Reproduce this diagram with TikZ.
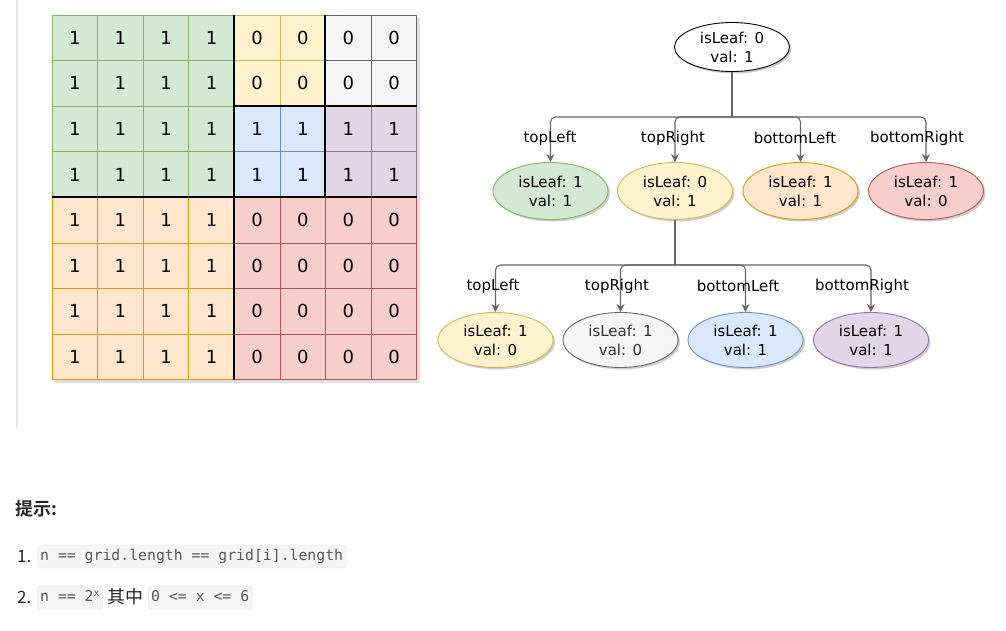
\documentclass[tikz,border=0pt]{standalone}
\usepackage{fontspec}
\setmainfont{DejaVu Sans}
\setmonofont{DejaVu Sans Mono}
\newfontfamily\cjk{Noto Sans CJK SC}
\newfontfamily\cjkb{Noto Sans CJK SC Bold}
\usetikzlibrary{shapes.geometric,arrows.meta,shadows}
\definecolor{gfill}{HTML}{D5E8D4}\definecolor{gline}{HTML}{82B366}
\definecolor{yfill}{HTML}{FFF2CC}\definecolor{yline}{HTML}{D6B656}
\definecolor{sfill}{HTML}{F5F5F5}\definecolor{sline}{HTML}{666666}
\definecolor{bfill}{HTML}{DAE8FC}\definecolor{bline}{HTML}{6C8EBF}
\definecolor{pfill}{HTML}{E1D5E7}\definecolor{pline}{HTML}{9673A6}
\definecolor{ofill}{HTML}{FFE6CC}\definecolor{oline}{HTML}{D79B00}
\definecolor{rfill}{HTML}{F8CECC}\definecolor{rline}{HTML}{B85450}
\definecolor{conncol}{HTML}{666666}
\definecolor{sepcol}{HTML}{E6E6E6}
\definecolor{txt}{HTML}{262626}
\definecolor{codebg}{HTML}{F5F5F5}
\definecolor{codeline}{HTML}{E6E6E6}
\definecolor{codetext}{HTML}{595959}
\tikzset{
  cell/.style={minimum size=45.6pt,inner sep=0pt,line width=0.8pt,font=\fontsize{18}{18}\selectfont},
  thickl/.style={line width=1.6pt,black},
  ell/.style={ellipse,minimum width=115pt,inner sep=0pt,line width=0.9pt,align=center,
    font=\fontsize{15}{19}\selectfont,
    drop shadow={shadow xshift=2pt,shadow yshift=-2pt,opacity=0.2,fill=black}},
  lbl/.style={font=\fontsize{15}{15}\selectfont,inner sep=1pt},
  trunk/.style={draw=conncol,line width=1.1pt},
  conn/.style={draw=conncol,line width=1.1pt,rounded corners=5pt,-{Stealth[length=8pt,width=8pt]}},
  code/.style={fill=codebg,draw=codeline,rounded corners=3pt,inner xsep=3pt,inner ysep=0pt,
    minimum height=23pt,text height=11pt,text depth=3pt,text=codetext,
    font=\ttfamily\fontsize{14.8}{15}\selectfont},
  plain/.style={text=txt,inner sep=0pt,anchor=west}
}
\begin{document}
\begin{tikzpicture}[x=1pt,y=-1pt]
\useasboundingbox (0,0) rectangle (1006,631);
\fill[white] (0,0) rectangle (1006,631);
% left separator
\draw[sepcol,line width=1.5pt] (17,0) -- (17,428);
% grid shadow
\fill[black!20,opacity=0.6] (55,18) rectangle (419.8,382.8);
% grid cells
\foreach \cx/\cy/\nw/\nh/\fc/\sc/\v in {0/0/4/4/gfill/gline/1, 4/0/2/2/yfill/yline/0, 6/0/2/2/sfill/sline/0, 4/2/2/2/bfill/bline/1, 6/2/2/2/pfill/pline/1, 0/4/4/4/ofill/oline/1, 4/4/4/4/rfill/rline/0}{
  \foreach \i in {1,...,\nw}{
    \foreach \j in {1,...,\nh}{
      \pgfmathtruncatemacro\col{\cx+\i-1}
      \pgfmathtruncatemacro\row{\cy+\j-1}
      \pgfmathsetmacro\xx{52+45.6*\col+22.8}
      \pgfmathsetmacro\yy{15+45.6*\row+22.8}
      \node[cell,fill=\fc,draw=\sc] (c\col-\row) at (\xx,\yy) {\v};
    }
  }
}
% thick region borders
\draw[thickl] (c4-0.north west) -- (c4-7.south west);
\draw[thickl] (c0-4.north west) -- (c7-4.north east);
\draw[thickl] (c6-0.north west) -- (c6-3.south west);
\draw[thickl] (c4-2.north west) -- (c7-2.north east);
% tree
\node[ell,fill=white,draw=black,minimum height=49pt] (root) at (732,47) {isLeaf: 0\\val: 1};
\node[ell,fill=gfill,draw=gline,minimum height=57pt] (a1) at (550.5,191) {isLeaf: 1\\val: 1};
\node[ell,fill=yfill,draw=yline,minimum height=57pt] (a2) at (675,191) {isLeaf: 0\\val: 1};
\node[ell,fill=ofill,draw=oline,minimum height=57pt] (a3) at (800.5,191) {isLeaf: 1\\val: 1};
\node[ell,fill=rfill,draw=rline,minimum height=57pt] (a4) at (926,191) {isLeaf: 1\\val: 0};
\node[ell,fill=yfill,draw=yline,minimum height=55pt] (b1) at (495.5,340) {isLeaf: 1\\val: 0};
\node[ell,fill=sfill,draw=sline,minimum height=55pt,text=black!80] (b2) at (620.5,340) {isLeaf: 1\\val: 0};
\node[ell,fill=bfill,draw=bline,minimum height=55pt] (b3) at (745.5,340) {isLeaf: 1\\val: 1};
\node[ell,fill=pfill,draw=pline,minimum height=55pt] (b4) at (871,340) {isLeaf: 1\\val: 1};
\coordinate (j1) at (732,117);
\coordinate (j2) at (675,265);
\draw[trunk] (root.south) -- (j1);
\foreach \n in {a1,a2,a3,a4}{\draw[conn] (j1) -| (\n.north);}
\draw[trunk] (a2.south) -- (j2);
\foreach \n in {b1,b2,b3,b4}{\draw[conn] (j2) -| (\n.north);}
\node[lbl] (la1) at (550,138) {topLeft};
\node[lbl] (la2) at (673,138) {topRight};
\node[lbl] (la3) at (795,138) {bottomLeft};
\node[lbl] (la4) at (917,138) {bottomRight};
\node[lbl] (lb1) at (493,286) {topLeft};
\node[lbl] (lb2) at (617,286) {topRight};
\node[lbl] (lb3) at (738,286) {bottomLeft};
\node[lbl] (lb4) at (862,286) {bottomRight};
% hints
\node[plain,font=\cjkb\fontsize{18}{18}\selectfont] (tip) at (15,509) {提示:};
\node[plain,font=\cjk\fontsize{17}{17}\selectfont] (n1) at (17,557) {1.};
\node[code,anchor=west] (code1) at (37,556.5) {n == grid.length == grid[i].length};
\node[plain,font=\cjk\fontsize{17}{17}\selectfont] (n2) at (17,597) {2.};
\node[code,anchor=west] (code2) at (37,597.5) {n == 2\raisebox{5pt}{\fontsize{10}{10}\selectfont x}};
\node[plain,font=\cjk\fontsize{18}{18}\selectfont] (qz) at (107,597) {其中};
\node[code,anchor=west] (code3) at (148,597.5) {0 <= x <= 6};
\end{tikzpicture}
\end{document}
